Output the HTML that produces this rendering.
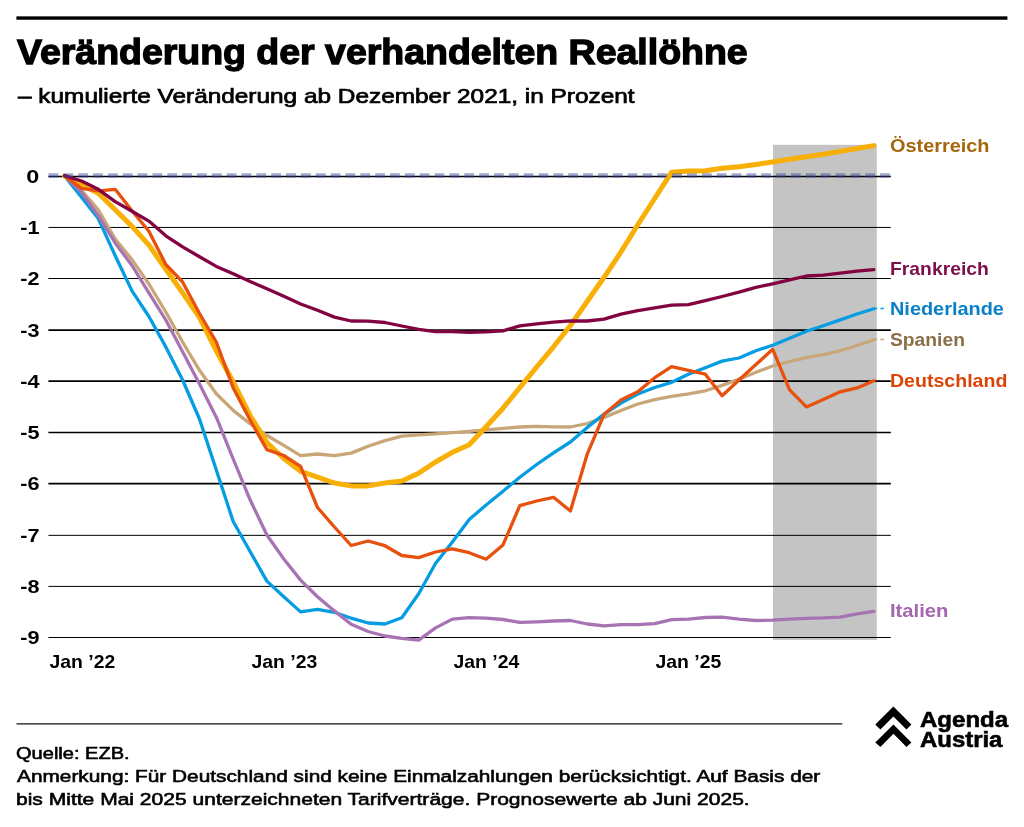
<!DOCTYPE html>
<html lang="de"><head><meta charset="utf-8"><title>Veränderung der verhandelten Reallöhne</title>
<style>
html,body{margin:0;padding:0;background:#fff;}
body{width:1024px;height:827px;position:relative;overflow:hidden;font-family:"Liberation Sans",sans-serif;color:#000;}
svg{position:absolute;left:0;top:0;}
.t{position:absolute;white-space:nowrap;line-height:1;margin:0;}
.txt{position:absolute;left:0;top:0;width:1024px;height:827px;will-change:transform;}
</style></head><body>
<svg width="1024" height="827" viewBox="0 0 1024 827">
<rect x="16.4" y="16.35" width="991" height="3.4" fill="#000"/>
<line x1="16.5" x2="842.3" y1="723.8" y2="723.8" stroke="#111" stroke-width="1.3"/>
<rect x="773" y="144.8" width="103.8" height="495.2" fill="#c4c4c4"/>
<g stroke="#000" stroke-width="1.1" fill="none">
<line x1="48.4" x2="890.8" y1="176.50" y2="176.50" stroke-width="1.7"/>
<line x1="48.4" x2="890.8" y1="227.45" y2="227.45" stroke-width="1.0"/>
<line x1="48.4" x2="890.8" y1="278.50" y2="278.50" stroke-width="1.0"/>
<line x1="48.4" x2="890.8" y1="330.10" y2="330.10" stroke-width="1.8"/>
<line x1="48.4" x2="890.8" y1="381.10" y2="381.10" stroke-width="1.8"/>
<line x1="48.4" x2="890.8" y1="432.50" y2="432.50" stroke-width="1.7"/>
<line x1="48.4" x2="890.8" y1="483.60" y2="483.60" stroke-width="1.7"/>
<line x1="48.4" x2="890.8" y1="535.35" y2="535.35" stroke-width="1.0"/>
<line x1="48.4" x2="890.8" y1="586.40" y2="586.40" stroke-width="1.0"/>
<line x1="48.4" x2="890.8" y1="637.50" y2="637.50" stroke-width="1.05"/>
</g>
<g fill="none" stroke-linejoin="round" stroke-linecap="round">
<path d="M64.6 176.0 L81.5 190.3 L98.3 209.8 L115.2 239.1 L132.0 259.6 L148.9 284.0 L165.8 312.0 L182.6 342.0 L199.5 370.3 L216.3 393.8 L233.2 410.4 L250.1 423.7 L266.9 435.5 L283.8 445.4 L300.6 455.7 L317.5 454.0 L334.4 455.7 L351.2 453.1 L368.1 446.3 L384.9 440.6 L401.8 436.1 L418.7 434.8 L435.5 433.8 L452.4 432.7 L469.2 431.3 L486.1 429.9 L503.0 428.4 L519.8 427.0 L536.7 426.4 L553.5 426.8 L570.4 427.0 L587.3 423.5 L604.1 417.4 L621.0 410.5 L637.8 404.0 L654.7 399.6 L671.6 396.3 L688.4 393.8 L705.3 390.8 L722.1 385.4 L739.0 379.1 L755.9 372.3 L772.7 366.0 L789.6 361.5 L806.4 357.7 L823.3 354.7 L840.2 350.8 L857.0 345.5 L873.9 339.7" stroke="#c9a678" stroke-width="3.3"/>
<path d="M64.6 176.0 L81.5 197.1 L98.3 218.6 L115.2 255.7 L132.0 290.9 L148.9 316.5 L165.8 346.9 L182.6 380.0 L199.5 419.0 L216.3 470.0 L233.2 521.5 L250.1 551.5 L266.9 581.1 L283.8 596.7 L300.6 611.9 L317.5 609.4 L334.4 612.3 L351.2 618.2 L368.1 623.0 L384.9 624.0 L401.8 617.8 L418.7 593.8 L435.5 563.5 L452.4 542.0 L469.2 519.5 L486.1 505.0 L503.0 491.3 L519.8 477.2 L536.7 464.5 L553.5 452.8 L570.4 442.0 L587.3 427.4 L604.1 414.0 L621.0 403.0 L637.8 394.0 L654.7 387.5 L671.6 382.3 L688.4 374.2 L705.3 367.8 L722.1 361.1 L739.0 358.0 L755.9 350.7 L772.7 345.2 L789.6 338.3 L806.4 331.2 L823.3 325.7 L840.2 319.9 L857.0 314.0 L873.9 308.7" stroke="#059de1" stroke-width="3.3"/>
<path d="M64.6 176.0 L81.5 192.3 L98.3 215.7 L115.2 243.0 L132.0 265.5 L148.9 292.8 L165.8 320.0 L182.6 351.8 L199.5 384.0 L216.3 417.2 L233.2 459.0 L250.1 499.8 L266.9 535.0 L283.8 559.0 L300.6 580.1 L317.5 596.7 L334.4 610.9 L351.2 624.3 L368.1 631.5 L384.9 636.0 L401.8 638.3 L418.7 640.2 L435.5 627.9 L452.4 619.1 L469.2 617.6 L486.1 618.2 L503.0 619.5 L519.8 622.4 L536.7 621.8 L553.5 621.0 L570.4 620.5 L587.3 624.0 L604.1 625.9 L621.0 624.6 L637.8 624.6 L654.7 623.6 L671.6 619.7 L688.4 619.1 L705.3 617.5 L722.1 617.2 L739.0 619.1 L755.9 620.5 L772.7 620.1 L789.6 619.1 L806.4 618.3 L823.3 617.9 L840.2 617.1 L857.0 613.8 L873.9 611.3" stroke="#a873b3" stroke-width="3.3"/>
<path d="M64.6 176.0 L81.5 184.4 L98.3 193.2 L115.2 209.8 L132.0 226.4 L148.9 245.0 L165.8 269.4 L182.6 292.8 L199.5 317.5 L216.3 350.8 L233.2 382.0 L250.1 415.5 L266.9 442.5 L283.8 458.5 L300.6 471.3 L317.5 477.1 L334.4 483.0 L351.2 485.9 L368.1 485.9 L384.9 483.0 L401.8 481.1 L418.7 473.2 L435.5 462.0 L452.4 452.3 L469.2 444.8 L486.1 426.7 L503.0 408.2 L519.8 387.7 L536.7 367.0 L553.5 346.8 L570.4 325.5 L587.3 301.2 L604.1 277.3 L621.0 251.9 L637.8 224.8 L654.7 198.5 L671.6 172.2 L688.4 170.9 L705.3 170.7 L722.1 168.3 L739.0 166.8 L755.9 164.4 L772.7 162.0 L789.6 159.3 L806.4 156.7 L823.3 154.3 L840.2 151.4 L857.0 148.5 L873.9 145.6" stroke="#f8af06" stroke-width="5.0"/>
<path d="M64.6 176.0 L81.5 188.3 L98.3 190.9 L115.2 189.3 L132.0 210.8 L148.9 231.3 L165.8 264.5 L182.6 282.0 L199.5 313.5 L216.3 342.0 L233.2 387.9 L250.1 420.0 L266.9 449.6 L283.8 455.5 L300.6 466.4 L317.5 507.5 L334.4 527.0 L351.2 545.5 L368.1 541.0 L384.9 545.7 L401.8 555.5 L418.7 557.6 L435.5 552.0 L452.4 548.8 L469.2 552.7 L486.1 559.2 L503.0 544.9 L519.8 505.7 L536.7 501.0 L553.5 497.3 L570.4 511.0 L587.3 453.8 L604.1 414.3 L621.0 400.0 L637.8 391.8 L654.7 377.7 L671.6 366.7 L688.4 370.3 L705.3 374.2 L722.1 395.7 L739.0 380.0 L755.9 364.5 L772.7 349.3 L789.6 389.8 L806.4 406.9 L823.3 399.6 L840.2 391.8 L857.0 387.9 L873.9 380.7" stroke="#e8500e" stroke-width="3.3"/>
<path d="M64.6 175.6 L81.5 181.0 L98.3 189.3 L115.2 201.6 L132.0 211.2 L148.9 221.1 L165.8 235.8 L182.6 246.9 L199.5 256.7 L216.3 266.4 L233.2 273.7 L250.1 281.5 L266.9 288.8 L283.8 296.2 L300.6 304.0 L317.5 310.2 L334.4 317.1 L351.2 321.0 L368.1 321.2 L384.9 322.5 L401.8 326.0 L418.7 329.4 L435.5 331.7 L452.4 331.7 L469.2 332.3 L486.1 331.9 L503.0 330.9 L519.8 325.8 L536.7 323.8 L553.5 322.2 L570.4 320.9 L587.3 321.0 L604.1 319.1 L621.0 314.2 L637.8 310.7 L654.7 307.8 L671.6 305.2 L688.4 304.7 L705.3 300.7 L722.1 296.5 L739.0 292.2 L755.9 287.3 L772.7 283.8 L789.6 279.9 L806.4 276.0 L823.3 275.2 L840.2 273.1 L857.0 271.1 L873.9 269.6" stroke="#82033f" stroke-width="3.3"/>
</g>
<line x1="48.5" x2="890.0" y1="175.5" y2="175.5" stroke="rgba(60,72,150,0.47)" stroke-width="4.4" stroke-dasharray="9.8 5.05"/>
<line x1="873.8" x2="884.2" y1="308.4" y2="308.4" stroke="#059de1" stroke-width="1.5" stroke-dasharray="3.5 3.1"/>
<line x1="873.8" x2="884.2" y1="339.6" y2="339.6" stroke="#c9a678" stroke-width="1.5" stroke-dasharray="3.5 3.1"/>
<g fill="#000">
<polygon points="893.45,706.5 911.4,724.5 906.5,729.4 893.45,716.6 880.4,729.4 875.3,724.5"/>
<polygon points="893.45,724.5 911.4,742.4 906.5,747.1 893.45,733.8 880.4,747.1 875.3,742.4"/>
</g>
</svg>
<div class="txt">
<div class="t" style="left:17.08px;top:32.00px;font-size:35.3px;color:#000;font-weight:bold;transform:scaleX(1.0612);transform-origin:left top;-webkit-text-stroke:1.3px #000;line-height:39px;">Veränderung der verhandelten Reallöhne</div>
<div class="t" style="left:18.02px;top:85.00px;font-size:20.3px;color:#000;font-weight:normal;transform:scaleX(1.2019);transform-origin:left top;-webkit-text-stroke:0.7px #000;line-height:22px;">– kumulierte Veränderung ab Dezember 2021, in Prozent</div>
<div class="t" style="left:29.05px;top:166.00px;font-size:18.5px;color:#000;font-weight:bold;transform:scaleX(1.2628);transform-origin:right top;line-height:21px;">0</div>
<div class="t" style="left:22.82px;top:217.00px;font-size:18.5px;color:#000;font-weight:bold;transform:scaleX(1.1699);transform-origin:right top;line-height:21px;">-1</div>
<div class="t" style="left:22.82px;top:268.00px;font-size:18.5px;color:#000;font-weight:bold;transform:scaleX(1.1699);transform-origin:right top;line-height:21px;">-2</div>
<div class="t" style="left:22.82px;top:320.00px;font-size:18.5px;color:#000;font-weight:bold;transform:scaleX(1.1699);transform-origin:right top;line-height:21px;">-3</div>
<div class="t" style="left:22.82px;top:371.00px;font-size:18.5px;color:#000;font-weight:bold;transform:scaleX(1.1699);transform-origin:right top;line-height:21px;">-4</div>
<div class="t" style="left:22.82px;top:422.00px;font-size:18.5px;color:#000;font-weight:bold;transform:scaleX(1.1699);transform-origin:right top;line-height:21px;">-5</div>
<div class="t" style="left:22.82px;top:473.00px;font-size:18.5px;color:#000;font-weight:bold;transform:scaleX(1.1699);transform-origin:right top;line-height:21px;">-6</div>
<div class="t" style="left:22.82px;top:525.00px;font-size:18.5px;color:#000;font-weight:bold;transform:scaleX(1.1699);transform-origin:right top;line-height:21px;">-7</div>
<div class="t" style="left:22.82px;top:576.00px;font-size:18.5px;color:#000;font-weight:bold;transform:scaleX(1.1699);transform-origin:right top;line-height:21px;">-8</div>
<div class="t" style="left:22.82px;top:627.00px;font-size:18.5px;color:#000;font-weight:bold;transform:scaleX(1.1699);transform-origin:right top;line-height:21px;">-9</div>
<div class="t" style="left:50.68px;top:651.00px;font-size:18.5px;color:#000;font-weight:bold;transform:scaleX(1.0480);transform-origin:center top;line-height:21px;">Jan ’22</div>
<div class="t" style="left:252.88px;top:651.00px;font-size:18.5px;color:#000;font-weight:bold;transform:scaleX(1.0480);transform-origin:center top;line-height:21px;">Jan ’23</div>
<div class="t" style="left:455.09px;top:651.00px;font-size:18.5px;color:#000;font-weight:bold;transform:scaleX(1.0480);transform-origin:center top;line-height:21px;">Jan ’24</div>
<div class="t" style="left:657.28px;top:651.00px;font-size:18.5px;color:#000;font-weight:bold;transform:scaleX(1.0480);transform-origin:center top;line-height:21px;">Jan ’25</div>
<div class="t" style="left:890.30px;top:136.00px;font-size:18.2px;color:#a5670b;font-weight:bold;transform:scaleX(1.0935);transform-origin:left top;line-height:20px;">Österreich</div>
<div class="t" style="left:890.33px;top:259.00px;font-size:18.2px;color:#7d0f4b;font-weight:bold;transform:scaleX(1.0627);transform-origin:left top;line-height:20px;">Frankreich</div>
<div class="t" style="left:890.30px;top:299.00px;font-size:18.2px;color:#0a80c7;font-weight:bold;transform:scaleX(1.0940);transform-origin:left top;line-height:20px;">Niederlande</div>
<div class="t" style="left:890.34px;top:330.00px;font-size:18.2px;color:#8b6f47;font-weight:bold;transform:scaleX(1.0590);transform-origin:left top;line-height:20px;">Spanien</div>
<div class="t" style="left:890.32px;top:371.00px;font-size:18.2px;color:#dc4405;font-weight:bold;transform:scaleX(1.0751);transform-origin:left top;line-height:20px;">Deutschland</div>
<div class="t" style="left:890.29px;top:601.00px;font-size:18.2px;color:#a267ae;font-weight:bold;transform:scaleX(1.1115);transform-origin:left top;line-height:20px;">Italien</div>
<div class="t" style="left:16.20px;top:743.00px;font-size:17.4px;color:#000;font-weight:normal;transform:scaleX(1.1523);transform-origin:left top;-webkit-text-stroke:0.6px #000;line-height:20px;">Quelle: EZB.</div>
<div class="t" style="left:16.58px;top:766.00px;font-size:17.4px;color:#000;font-weight:normal;transform:scaleX(1.1973);transform-origin:left top;-webkit-text-stroke:0.6px #000;line-height:20px;">Anmerkung: Für Deutschland sind keine Einmalzahlungen berücksichtigt. Auf Basis der</div>
<div class="t" style="left:16.15px;top:789.00px;font-size:17.4px;color:#000;font-weight:normal;transform:scaleX(1.2092);transform-origin:left top;-webkit-text-stroke:0.6px #000;line-height:20px;">bis Mitte Mai 2025 unterzeichneten Tarifverträge. Prognosewerte ab Juni 2025.</div>
<div class="t" style="left:919.70px;top:707.00px;font-size:22.1px;color:#000;font-weight:bold;transform:scaleX(1.0873);transform-origin:left top;-webkit-text-stroke:0.6px #000;line-height:25px;">Agenda</div>
<div class="t" style="left:919.70px;top:727.00px;font-size:22.1px;color:#000;font-weight:bold;transform:scaleX(1.0824);transform-origin:left top;-webkit-text-stroke:0.6px #000;line-height:25px;">Austria</div>
</div>
</body></html>
